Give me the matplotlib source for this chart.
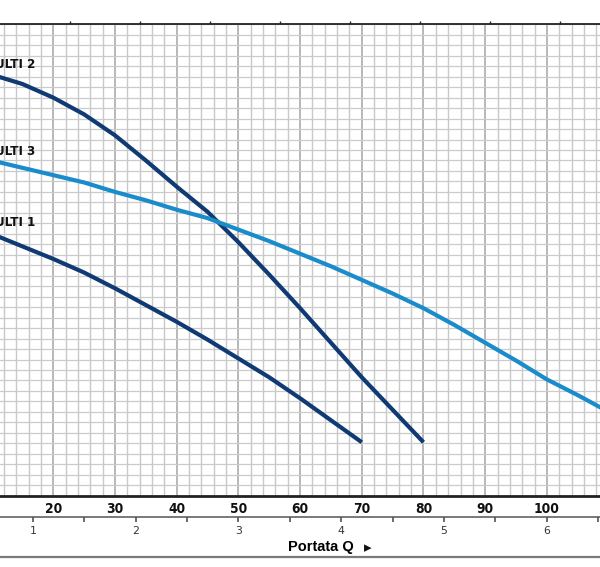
import matplotlib
matplotlib.use("Agg")
import matplotlib.pyplot as plt
from matplotlib.lines import Line2D
from matplotlib.ticker import MultipleLocator, FixedLocator, NullFormatter
from matplotlib import font_manager as fm

# ---------------- data (flow Q in l/min, head H in m) ----------------
q_multi1 = [10, 15, 20, 25, 30, 35, 40, 45, 50, 55, 60, 65, 70]
h_multi1 = [25.0, 23.8, 22.6, 21.3, 19.8, 18.2, 16.6, 14.9, 13.1, 11.3, 9.3, 7.2, 5.1]

q_multi2 = [10, 15, 20, 25, 30, 35, 40, 45, 50, 55, 60, 65, 70, 75, 80]
h_multi2 = [40.2, 39.3, 38.0, 36.4, 34.4, 32.0, 29.5, 27.1, 24.2, 21.1, 17.9, 14.6, 11.3, 8.2, 5.1]

q_multi3 = [10, 15, 20, 25, 30, 35, 40, 45, 50, 55, 60, 65, 70, 75, 80, 85, 90, 95, 100, 105, 110]
h_multi3 = [32.0, 31.3, 30.6, 29.9, 29.0, 28.2, 27.3, 26.5, 25.4, 24.3, 23.1, 21.9, 20.6,
            19.3, 17.9, 16.3, 14.6, 12.9, 11.1, 9.6, 8.0]

series_names = ["MULTI 1", "MULTI 2", "MULTI 3"]
lmin_ticks = [10, 20, 30, 40, 50, 60, 70, 80, 90, 100, 110]
m3h_ticks = [1, 2, 3, 4, 5, 6]
axis_title = "Portata Q"

# ---------------- fonts ----------------
def narrow_bold_file():
    prefs = []
    for f in fm.fontManager.ttflist:
        n = f.name.lower()
        p = f.fname.lower()
        narrow = ("narrow" in n or "condensed" in n or "narrow" in p
                  or "condensed" in p or str(f.stretch) in ("condensed", "semi-condensed"))
        bold = ("bold" in p) or (str(f.weight) in ("bold", "700", "heavy", "black"))
        if narrow and bold and "serif" not in p and "mono" not in p and "oblique" not in p \
                and "italic" not in p:
            rank = 0 if "liberation" in p else (1 if "dejavu" in p else 2)
            prefs.append((rank, f.fname))
    prefs.sort()
    return prefs[0][1] if prefs else None

_nf = narrow_bold_file()
if _nf:
    def narrow_fp(size):
        return fm.FontProperties(fname=_nf, size=size)
else:
    def narrow_fp(size):
        return fm.FontProperties(family="Liberation Sans", weight="bold", size=size)
LAB_SIZE, TICK_SIZE = 9.6, 9.8

# ---------------- styling ----------------
NAVY = "#0f3a74"
LIGHT = "#1a8ccc"

W, H = 600, 567
fig = plt.figure(figsize=(W / 100, H / 100), dpi=100)

y_top_px, y_bot_px = 24.3, 495.7
ax = fig.add_axes([0, (H - y_bot_px) / H, 1, (y_bot_px - y_top_px) / H])

def q_of_px(px):
    return 20 + (px - 53.3) / 6.17

ax.set_xlim(q_of_px(0), q_of_px(600))
ax.set_ylim(0, 45)

# grid
ax.set_axisbelow(True)
ax.xaxis.set_major_locator(FixedLocator(lmin_ticks))
ax.xaxis.set_minor_locator(MultipleLocator(2))
ax.yaxis.set_major_locator(MultipleLocator(1))
ax.grid(which="major", axis="x", color="#ababab", lw=1.2)
ax.grid(which="minor", axis="x", color="#c8c8c8", lw=1.0)
ax.grid(which="major", axis="y", color="#cbcbcb", lw=0.9)
ax.tick_params(axis="y", left=False, labelleft=False)
ax.tick_params(axis="x", which="both", length=0, pad=4.3)
ax.set_xticklabels([str(v) for v in lmin_ticks])
for lab in ax.get_xticklabels():
    lab.set_fontproperties(narrow_fp(TICK_SIZE))
    lab.set_color("#111111")

for s in ["left", "right"]:
    ax.spines[s].set_visible(False)
ax.spines["bottom"].set_linewidth(2.0)
ax.spines["bottom"].set_color("#222222")
ax.spines["top"].set_linewidth(1.3)
ax.spines["top"].set_color("#222222")

# curves
ax.plot(q_multi2, h_multi2, color=NAVY, lw=3.0, solid_capstyle="butt", zorder=3)
ax.plot(q_multi1, h_multi1, color=NAVY, lw=3.0, solid_capstyle="butt", zorder=3)
ax.plot(q_multi3, h_multi3, color=LIGHT, lw=3.0, solid_capstyle="butt", zorder=3)

# curve labels
lab_x = q_of_px(35)
for name, yv in zip(series_names, [26.1, 41.2, 32.9]):
    ax.text(lab_x, yv, name, ha="right", va="center", fontproperties=narrow_fp(LAB_SIZE),
            color="#111111", zorder=4)

# top scale ticks (US gpm)
top = ax.secondary_xaxis("top", functions=(lambda q: q / 3.785, lambda g: g * 3.785))
top.xaxis.set_major_locator(MultipleLocator(3))
top.xaxis.set_major_formatter(NullFormatter())
top.tick_params(length=2, width=1.0, color="#222222")
top.spines["top"].set_visible(False)

# m3/h scale below the l/min labels
loc = (y_bot_px - 517.3) / (y_bot_px - y_top_px)
sec = ax.secondary_xaxis(loc, functions=(lambda q: q * 0.06, lambda m: m / 0.06))
sec.xaxis.set_major_locator(FixedLocator(m3h_ticks))
sec.xaxis.set_minor_locator(MultipleLocator(0.5))
sec.tick_params(which="both", length=3.5, width=1.1, color="#444444",
                labelsize=7.8, labelcolor="#333333", pad=2.5)
sec.spines["bottom"].set_color("#555555")
sec.spines["bottom"].set_linewidth(1.1)

# axis title and bottom rule
fig.text(288 / W, (H - 547.3) / H, axis_title, ha="left", va="center",
         fontsize=10.5, fontweight="bold", family=["Liberation Sans", "DejaVu Sans"])
fig.text(368 / W, (H - 547.3) / H, "\u25B8", ha="center", va="center",
         fontsize=11, family="DejaVu Sans", color="#111111")
fig.add_artist(Line2D([0, 1], [(H - 556.7) / H] * 2, color="#7a7a7a", lw=1.6))

fig.savefig("out.png", dpi=100)
